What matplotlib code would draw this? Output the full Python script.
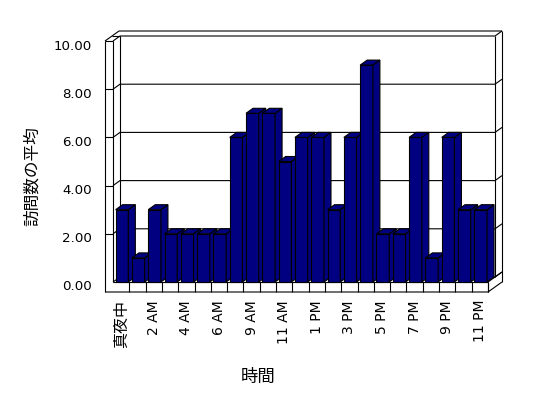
import numpy as np
import matplotlib
matplotlib.use('Agg')
import matplotlib.pyplot as plt
from matplotlib.patches import Polygon
import matplotlib.transforms as mtransforms

# ---- data ----
hours = ['真夜中', '1 AM', '2 AM', '3 AM', '4 AM', '5 AM', '6 AM', '8 AM', '9 AM',
         '10 AM', '11 AM', '12 PM', '1 PM', '2 PM', '3 PM', '4 PM', '5 PM', '6 PM',
         '7 PM', '8 PM', '9 PM', '10 PM', '11 PM']
visits = [3, 1, 3, 2, 2, 2, 2, 6, 7, 7, 5, 6, 6, 3, 6, 9, 2, 2, 6, 1, 6, 3, 3]
yticks = [0, 2, 4, 6, 8, 10]
xlabel = '時間'
ylabel = '訪問数の平均'

W, H = 548, 398
fig = plt.figure(figsize=(W / 100, H / 100), dpi=100)
fig.patch.set_facecolor('white')

# axes: x 0..23 -> px 113..488 ; y 0..10 -> px 282..41
left_px, right_px, base_px, top_px = 113, 488, 282, 41
ax = fig.add_axes([left_px / W, (H - base_px) / H,
                   (right_px - left_px) / W, (base_px - top_px) / H])
n = len(visits)
ax.set_xlim(0, n)
ax.set_ylim(0, 10)
ax.axis('off')

ppx = (right_px - left_px) / n      # px per category
ppy = (base_px - top_px) / 10.0     # px per unit
ddx = 7 / ppx                       # depth offset (data units)
ddy = 5 / ppy
L = 8 / ppx                         # left wall thickness
F = 10 / ppy                        # floor thickness

lc = 'black'
lw = 0.8
navy = '#000080'

def line(xs, ys, z=1):
    ax.plot(xs, ys, color=lc, lw=lw, clip_on=False, zorder=z, solid_capstyle='butt')

# back wall gridlines (with front ticks on left wall)
for v in yticks:
    if v > 0:
        line([-L, 0], [v, v], z=1)
    line([0, ddx, n + ddx, n + 2 * ddx], [v, v + ddy, v + ddy, v + 2 * ddy], z=1)
# left wall
line([-L, -L], [-F, 10])
line([0, 0], [0, 10])
line([ddx, ddx], [ddy, 10 + ddy])
line([-L, -L + 2 * ddx, n + 2 * ddx], [10, 10 + 2 * ddy, 10 + 2 * ddy])
line([-L + ddx, ddx], [10 + ddy, 10 + ddy])
# right edges
line([n + ddx, n + ddx], [ddy, 10 + ddy])
line([n + 2 * ddx, n + 2 * ddx], [-F + 2 * ddy, 10 + 2 * ddy])
# floor
line([-L, n, n + 2 * ddx], [-F, -F, -F + 2 * ddy])
line([0, n], [0, 0], z=1)
line([n, n], [-F, 0])
line([n, n + ddx, n + 2 * ddx], [0, ddy, 2 * ddy], z=1)
for i in range(1, n + 1):
    line([i, i], [-F, 0])

# bars (fronts via ax.bar, sides/tops as polygons)
bw = 0.78
off = 0.16
x0s = np.arange(n) + off
bars = ax.bar(x0s, visits, width=bw, align='edge', color=navy,
              edgecolor='black', linewidth=lw, clip_on=False)
for i, (b, v) in enumerate(zip(bars, visits)):
    z = 3 + i * 0.01
    b.set_zorder(z)
    x0 = x0s[i]
    x1 = x0 + bw
    side = Polygon([(x1, 0), (x1 + ddx, ddy), (x1 + ddx, v + ddy), (x1, v)],
                   closed=True, facecolor=navy, edgecolor='black', lw=lw,
                   zorder=z, clip_on=False)
    top = Polygon([(x0, v), (x1, v), (x1 + ddx, v + ddy), (x0 + ddx, v + ddy)],
                  closed=True, facecolor=navy, edgecolor='black', lw=lw,
                  zorder=z, clip_on=False)
    ax.add_patch(side)
    ax.add_patch(top)

# y tick labels
ytrans = ax.transData + mtransforms.ScaledTranslation(0, -5 / 100, fig.dpi_scale_trans)
for v in yticks:
    ax.text(-21 / ppx, v, f'{v:.2f}', transform=ytrans, ha='right', va='center',
            fontsize=9.6, family='DejaVu Sans', color='black', clip_on=False)

# x tick labels (every other category)
for i in range(0, n, 2):
    lab = hours[i]
    if any(ord(c) > 0x3000 for c in lab):
        fam, fs = ['Noto Sans CJK JP', 'DejaVu Sans'], 11.5
    else:
        fam, fs = 'DejaVu Sans', 10
    ax.text(i + 0.5, -18 / ppy, lab, rotation=90, ha='center', va='top',
            fontsize=fs, family=fam, color='black', clip_on=False)

fig.text(258 / W, 1 - 377 / H, xlabel, ha='center', va='center', fontsize=12.5,
         family=['Noto Sans CJK JP', 'DejaVu Sans'])
fig.text(32 / W, 1 - 176 / H, ylabel, ha='center', va='center', rotation=90,
         fontsize=12, family=['Noto Sans CJK JP', 'DejaVu Sans'])

fig.savefig('out.png', dpi=100, facecolor='white')
